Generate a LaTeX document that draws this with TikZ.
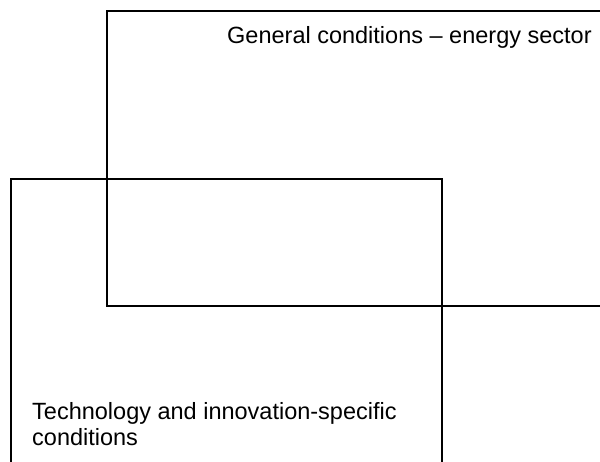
\documentclass[tikz,border=0pt]{standalone}
\usepackage{fontspec}
\setmainfont{Liberation Sans}
\usetikzlibrary{positioning}

\begin{document}
\begin{tikzpicture}[x=1pt,y=-1pt,
  label/.style={anchor=base west,inner sep=0pt,font=\fontsize{23.5}{26}\selectfont,align=left}]
\useasboundingbox (0,0) rectangle (600,461);
\clip (0,0) rectangle (600,461);
% outer frame (energy sector)
\draw[line width=2pt] (620,11) -- (106.5,11) -- (106.5,306) -- (620,306);
% inner frame (technology)
\draw[line width=1.4pt] (11,480) -- (11,179) -- (442,179) -- (442,480);
\node[label] (general) at (227,43) {General conditions -- energy sector};
\node[label] (techno) at (32,445.5) {Technology and innovation-specific\\conditions};
\end{tikzpicture}
\end{document}
